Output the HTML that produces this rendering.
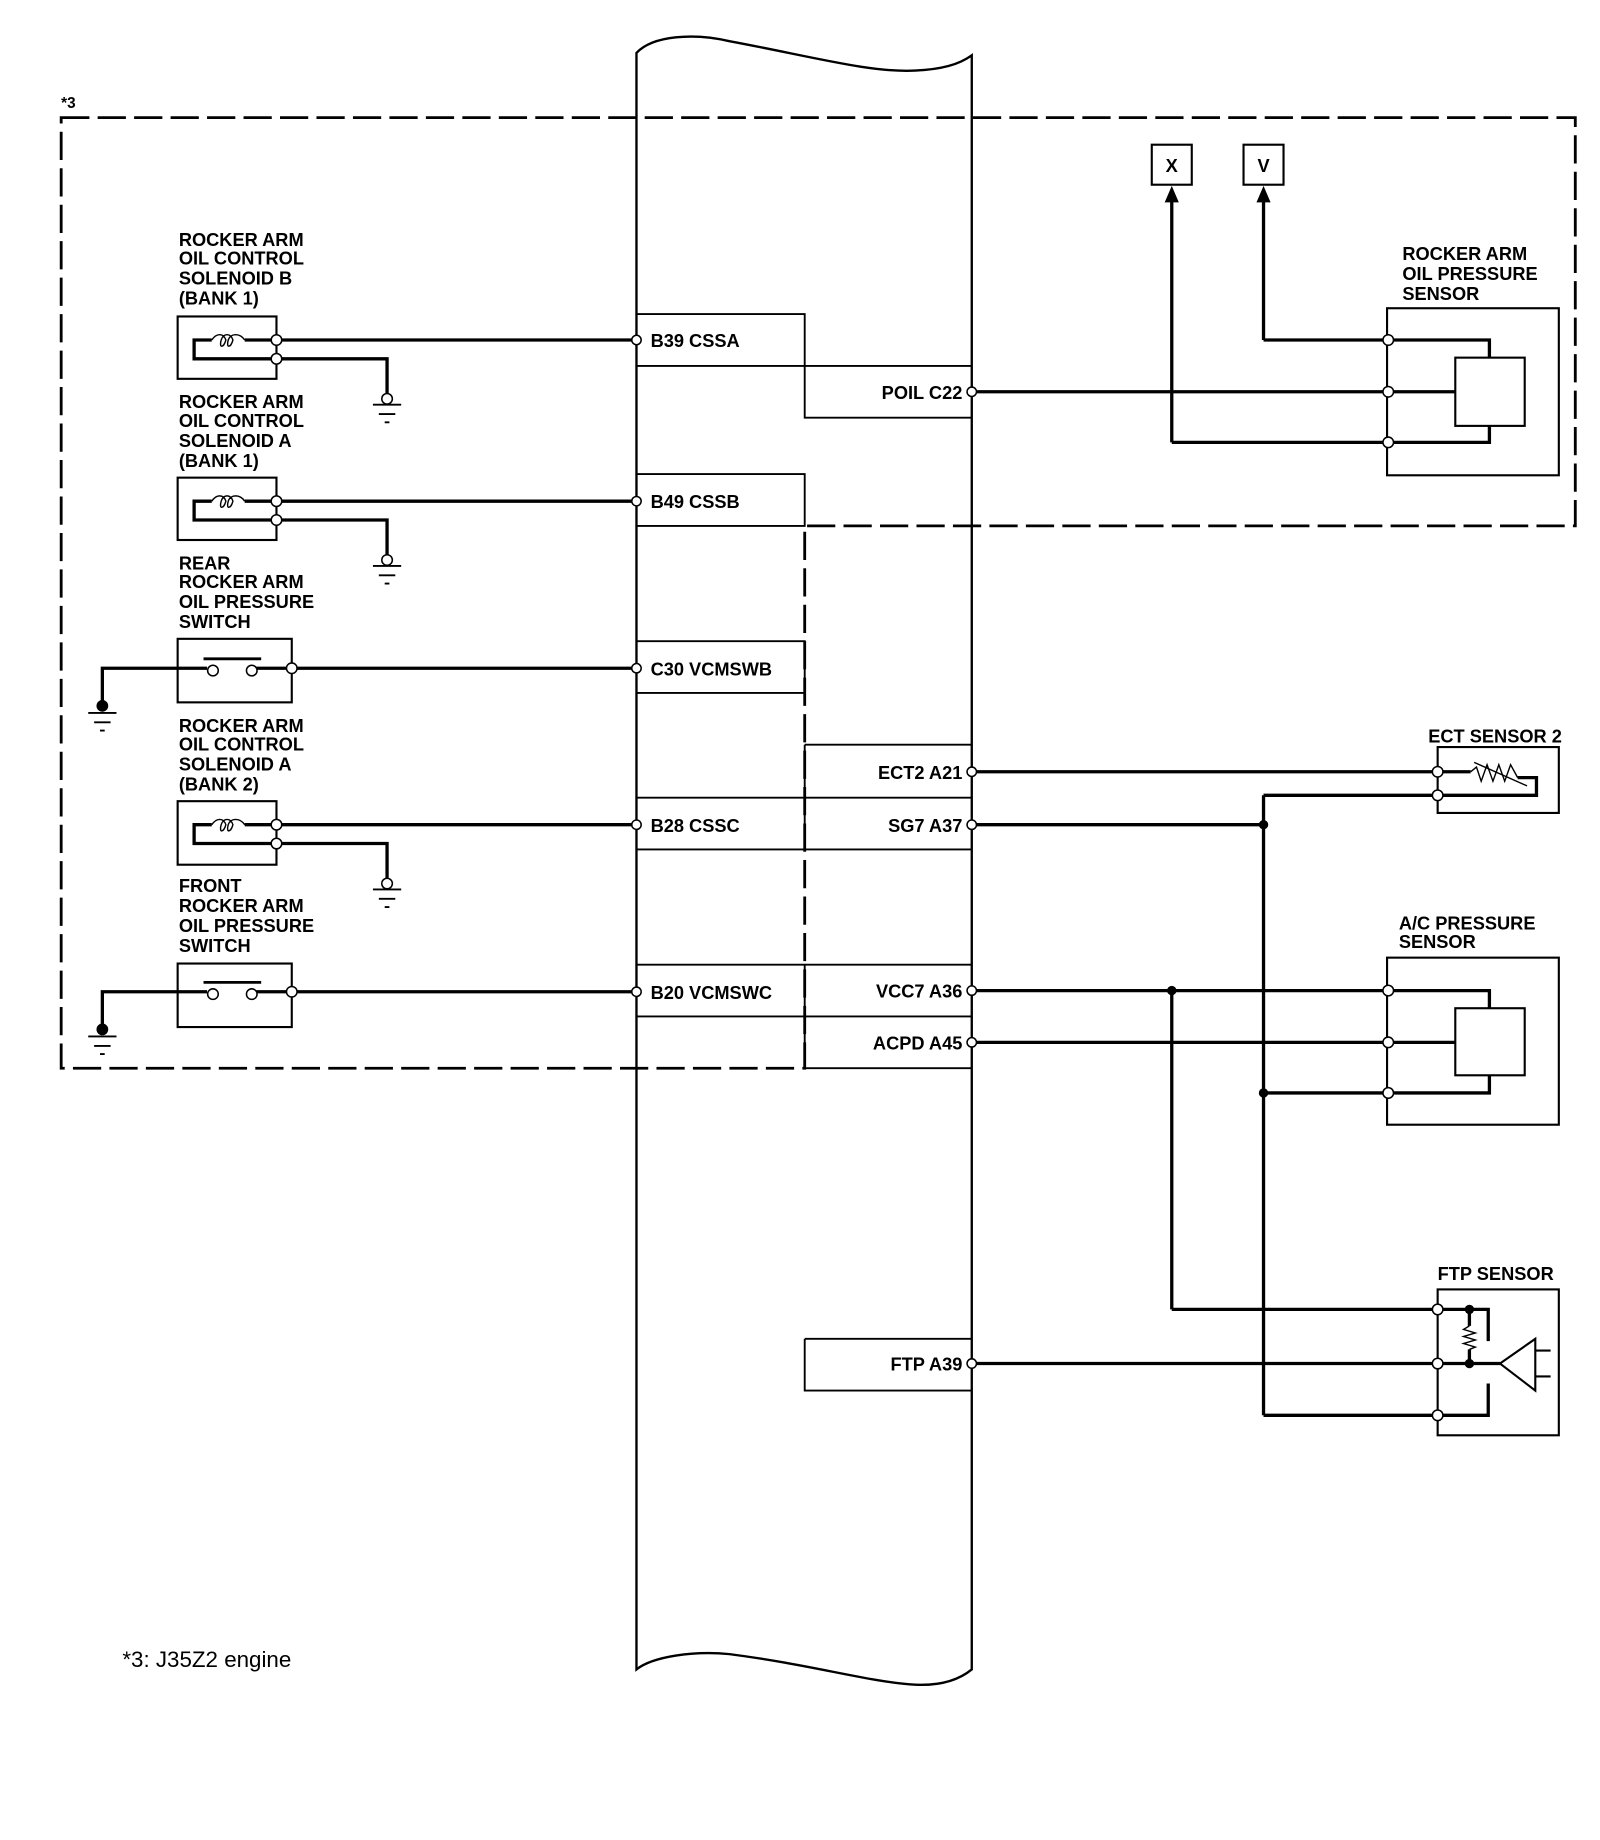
<!DOCTYPE html>
<html><head><meta charset="utf-8"><style>
html,body{margin:0;padding:0;background:#fff}
svg{display:block}
text{font-family:"Liberation Sans",Arial,sans-serif;font-size:15.5px;font-weight:bold;fill:#000}
</style></head><body>
<svg width="1600" height="1840" viewBox="0 0 1360 1564" xmlns="http://www.w3.org/2000/svg">
<g fill="none" stroke="#000">
<path d="M541,1419 L541,45 C555,30 590,28 620,35 C690,48 740,62 778,60 C800,59 815,55 826,47 L826,1419 C815,1428 800,1433 778,1432 C740,1430 690,1415 620,1406 C590,1403 555,1408 541,1419 Z" stroke-width="2"/>
<g stroke-width="2.4" stroke-dasharray="24,7">
<path d="M52,100 H1339 V447 H684 V908 H52 Z"/>
</g>
<g stroke-width="1.6">
<path d="M541,267 H684 V355 H826"/>
<path d="M541,311 H826"/>
<path d="M541,403 H684 V447 H541"/>
<path d="M541,545 H684 V589 H541"/>
<path d="M684,633 H826 M684,633 V722 M541,678 H826 M541,722 H826"/>
<path d="M541,820 H826 M684,820 V908 H826 M541,864 H826"/>
<path d="M684,1138 H826 M684,1138 V1182 H826"/>
</g>
<g stroke-width="2.8">
<path d="M235,289 H541"/>
<path d="M235,426 H541"/>
<path d="M248,568 H541"/>
<path d="M235,701 H541"/>
<path d="M248,843 H541"/>
<path d="M235,305 H329 V335"/>
<path d="M235,442 H329 V472"/>
<path d="M235,717 H329 V747"/>
<path d="M176,568 H87 V598"/>
<path d="M176,843 H87 V873"/>
<path d="M826,333 H1180"/>
<path d="M996,376 H1180 M996,376 V170"/>
<path d="M1074,289 H1180 M1074,289 V170"/>
<path d="M1180,289 H1266 V304 M1180,333 H1237 M1180,376 H1266 V362"/>
<path d="M826,656 H1222 M826,701 H1074 M1074,676 V1203 M1074,676 H1222"/>
<path d="M1222,656 H1250 M1290,661 H1306 V676 H1222"/>
<path d="M826,842 H1180 M826,886 H1180 M1074,929 H1180 M996,842 V1113"/>
<path d="M1180,842 H1266 V857 M1180,886 H1237 M1180,929 H1266 V914"/>
<path d="M996,1113 H1222 M826,1159 H1222 M1074,1203 H1222"/>
<path d="M1222,1113 H1265 V1140 M1249,1113 V1127 M1249,1147 V1159 M1222,1159 H1275 M1222,1203 H1265 V1176"/>
<path d="M235,289 H208 M180,289 H165 V305 H235"/>
<path d="M235,426 H208 M180,426 H165 V442 H235"/>
<path d="M235,701 H208 M180,701 H165 V717 H235"/>
<path d="M248,568 H218 M248,843 H218"/>
</g>
<g stroke-width="1.8">
<rect x="151" y="269" width="84" height="53"/>
<rect x="151" y="406" width="84" height="53"/>
<rect x="151" y="543" width="97" height="54"/>
<rect x="151" y="681" width="84" height="54"/>
<rect x="151" y="819" width="97" height="54"/>
<rect x="979" y="123" width="34" height="34"/>
<rect x="1057" y="123" width="34" height="34"/>
<rect x="1179" y="262" width="146" height="142"/>
<rect x="1237" y="304" width="59" height="58"/>
<rect x="1222" y="635" width="103" height="56"/>
<rect x="1179" y="814" width="146" height="142"/>
<rect x="1237" y="857" width="59" height="57"/>
<rect x="1222" y="1096" width="103" height="124"/>
<path d="M1275,1159 L1305,1138 V1182 Z M1305,1148 H1318 M1305,1170 H1318"/>
</g>
<g stroke-width="1.2">
<path d="M180,289 C184,283 190,283 192,289 C190,296 186,296 188,289 C190,283 196,283 198,289 C196,296 192,296 194,289 C196,283 204,283 208,289"/>
<path d="M180,426 C184,420 190,420 192,426 C190,433 186,433 188,426 C190,420 196,420 198,426 C196,433 192,433 194,426 C196,420 204,420 208,426"/>
<path d="M180,701 C184,695 190,695 192,701 C190,708 186,708 188,701 C190,695 196,695 198,701 C196,708 192,708 194,701 C196,695 204,695 208,701"/>
<path d="M1250,656 L1255,652 L1259,664 L1264,650 L1269,664 L1274,650 L1279,664 L1284,650 L1290,661"/>
<path d="M1253,648 L1298,668"/>
<path d="M1249,1127 L1244,1130 L1254,1133 L1244,1136 L1254,1139 L1244,1142 L1254,1145 L1249,1147"/>
</g>
<g stroke-width="2.4"><path d="M173,560 H222 M173,835 H222"/></g>
<g stroke-width="1.6">
<path d="M317,344 H341 M322,352 H336 M327,359 H331"/>
<path d="M317,481 H341 M322,489 H336 M327,496 H331"/>
<path d="M317,756 H341 M322,764 H336 M327,771 H331"/>
<path d="M75,606 H99 M80,614 H94 M85,621 H89"/>
<path d="M75,881 H99 M80,889 H94 M85,896 H89"/>
</g>
</g>
<path d="M996,158 L990,172 H1002 Z M1074,158 L1068,172 H1080 Z" fill="#000"/>
<g fill="#fff" stroke="#000" stroke-width="1.3">
<circle cx="541" cy="289" r="4"/><circle cx="541" cy="426" r="4"/><circle cx="541" cy="568" r="4"/><circle cx="541" cy="701" r="4"/><circle cx="541" cy="843" r="4"/>
<circle cx="826" cy="333" r="4"/><circle cx="826" cy="656" r="4"/><circle cx="826" cy="701" r="4"/><circle cx="826" cy="842" r="4"/><circle cx="826" cy="886" r="4"/><circle cx="826" cy="1159" r="4"/>
<circle cx="235" cy="289" r="4.5"/><circle cx="235" cy="305" r="4.5"/><circle cx="235" cy="426" r="4.5"/><circle cx="235" cy="442" r="4.5"/><circle cx="235" cy="701" r="4.5"/><circle cx="235" cy="717" r="4.5"/>
<circle cx="248" cy="568" r="4.5"/><circle cx="248" cy="843" r="4.5"/>
<circle cx="181" cy="570" r="4.5"/><circle cx="214" cy="570" r="4.5"/><circle cx="181" cy="845" r="4.5"/><circle cx="214" cy="845" r="4.5"/>
<circle cx="329" cy="339" r="4.5"/><circle cx="329" cy="476" r="4.5"/><circle cx="329" cy="751" r="4.5"/>
<circle cx="1180" cy="289" r="4.5"/><circle cx="1180" cy="333" r="4.5"/><circle cx="1180" cy="376" r="4.5"/>
<circle cx="1222" cy="656" r="4.5"/><circle cx="1222" cy="676" r="4.5"/>
<circle cx="1180" cy="842" r="4.5"/><circle cx="1180" cy="886" r="4.5"/><circle cx="1180" cy="929" r="4.5"/>
<circle cx="1222" cy="1113" r="4.5"/><circle cx="1222" cy="1159" r="4.5"/><circle cx="1222" cy="1203" r="4.5"/>
</g>
<g fill="#000">
<circle cx="1074" cy="701" r="4"/><circle cx="1074" cy="929" r="4"/><circle cx="996" cy="842" r="4"/>
<circle cx="1249" cy="1113" r="4"/><circle cx="1249" cy="1159" r="4"/>
<circle cx="87" cy="600" r="5"/><circle cx="87" cy="875" r="5"/>
</g>
<text x="52" y="92" style="font-size:13px">*3</text>
<text x="152" y="209">ROCKER ARM</text><text x="152" y="225">OIL CONTROL</text><text x="152" y="242">SOLENOID B</text><text x="152" y="259">(BANK 1)</text>
<text x="152" y="347">ROCKER ARM</text><text x="152" y="363">OIL CONTROL</text><text x="152" y="380">SOLENOID A</text><text x="152" y="397">(BANK 1)</text>
<text x="152" y="484">REAR</text><text x="152" y="500">ROCKER ARM</text><text x="152" y="517">OIL PRESSURE</text><text x="152" y="534">SWITCH</text>
<text x="152" y="622">ROCKER ARM</text><text x="152" y="638">OIL CONTROL</text><text x="152" y="655">SOLENOID A</text><text x="152" y="672">(BANK 2)</text>
<text x="152" y="758">FRONT</text><text x="152" y="775">ROCKER ARM</text><text x="152" y="792">OIL PRESSURE</text><text x="152" y="809">SWITCH</text>
<text x="553" y="295">B39 CSSA</text>
<text x="553" y="432">B49 CSSB</text>
<text x="553" y="574">C30 VCMSWB</text>
<text x="553" y="707">B28 CSSC</text>
<text x="553" y="849">B20 VCMSWC</text>
<g text-anchor="end">
<text x="818" y="339">POIL C22</text>
<text x="818" y="662">ECT2 A21</text>
<text x="818" y="707">SG7 A37</text>
<text x="818" y="848">VCC7 A36</text>
<text x="818" y="892">ACPD A45</text>
<text x="818" y="1165">FTP A39</text>
</g>
<text x="996" y="146" text-anchor="middle">X</text>
<text x="1074" y="146" text-anchor="middle">V</text>
<text x="1192" y="221">ROCKER ARM</text><text x="1192" y="238">OIL PRESSURE</text><text x="1192" y="255">SENSOR</text>
<text x="1214" y="631">ECT SENSOR 2</text>
<text x="1189" y="790">A/C PRESSURE</text><text x="1189" y="806">SENSOR</text>
<text x="1222" y="1088">FTP SENSOR</text>
<text x="104" y="1417" style="font-size:19px;font-weight:normal">*3: J35Z2 engine</text>
</svg>
</body></html>
